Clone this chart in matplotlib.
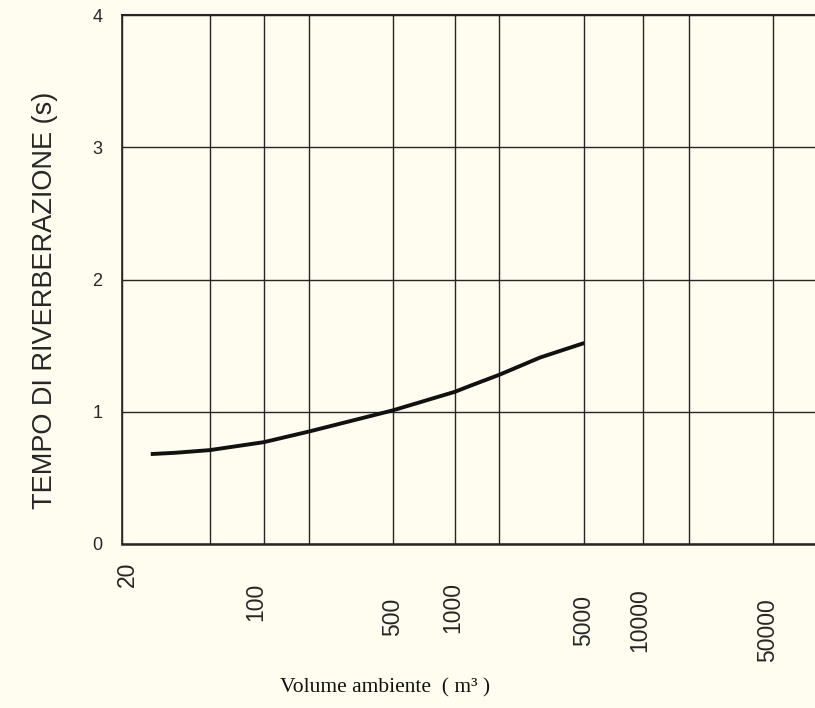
import numpy as np
import matplotlib.pyplot as plt
from matplotlib import transforms

# Curve
volume = [27, 35, 50, 100, 200, 500, 1000, 1300, 2000, 3100, 5000]
t_rev = [0.68, 0.69, 0.71, 0.77, 0.85, 1.01, 1.15, 1.20, 1.28, 1.41, 1.52]

# Printed vertical grid (hand drawn, so not a perfect log scale)
grid_vals = [10, 20, 50, 100, 200, 500, 1000, 2000, 5000, 10000, 20000, 50000, 100000]
grid_px = [-57, 0, 88, 142, 187, 271, 333, 378, 463, 522, 568, 652, 709]

label_vals = [20, 100, 500, 1000, 5000, 10000, 50000]
label_text = ["20", "100", "500", "1000", "5000", "10000", "50000"]
y_ticks = [0, 1, 2, 3, 4]

# staggered label layout (pixels)
label_top = [562, 583, 598, 582, 595, 588, 598]
label_dx = [5, -8, 0, -2, -1, -3, -5]

log_knots = np.log10(grid_vals)


def fwd(v):
    v = np.clip(np.asarray(v, dtype=float), 1e-9, None)
    return np.interp(np.log10(v), log_knots, grid_px)


def inv(p):
    return 10 ** np.interp(p, grid_px, log_knots)


bg = "#fffdf0"
ink = "#262626"

fig = plt.figure(figsize=(8.15, 7.08), dpi=100, facecolor=bg)
ax = fig.add_axes([122 / 815, 1 - 544 / 708, 1 - 122 / 815, 529 / 708])
ax.set_facecolor(bg)

ax.set_xscale("function", functions=(fwd, inv))
ax.set_xlim(20, float(inv(815 - 121)))
ax.set_ylim(0, 4)

ax.set_xticks(grid_vals[1:-1])
ax.set_xticklabels([])
ax.set_yticks(y_ticks)
ax.set_yticklabels([str(v) for v in y_ticks], fontsize=13, family="Liberation Sans", color=ink)
ax.tick_params(length=0)
ax.tick_params(axis="y", pad=14)
ax.grid(True, color=ink, linewidth=1.0)

for s in ["left", "top", "bottom"]:
    ax.spines[s].set_color(ink)
ax.spines["left"].set_linewidth(1.2)
ax.spines["top"].set_linewidth(1.5)
ax.spines["bottom"].set_linewidth(1.8)
ax.spines["right"].set_visible(False)

ax.plot(volume, t_rev, color="#111111", linewidth=2.8, solid_capstyle="butt", zorder=3)

base = transforms.blended_transform_factory(ax.transData, fig.transFigure)
for v, txt, top, dx in zip(label_vals, label_text, label_top, label_dx):
    tr = transforms.offset_copy(base, fig=fig, x=dx, y=0, units="dots")
    ax.text(v, 1 - top / 708, txt, transform=tr, rotation=90, ha="center", va="top",
            fontsize=16.5, family="Liberation Sans", color=ink, clip_on=False)

fig.text(45 / 815, 1 - 300 / 708, "TEMPO DI RIVERBERAZIONE (s)", rotation=90,
         ha="center", va="center", fontsize=19.5, family="Liberation Sans", color=ink)
fig.text(385 / 815, 1 - 688 / 708, "Volume ambiente  ( m³ )", ha="center", va="center",
         fontsize=15.5, family="Liberation Serif", color="#111111")

fig.savefig("out.png", dpi=100, facecolor=bg)
